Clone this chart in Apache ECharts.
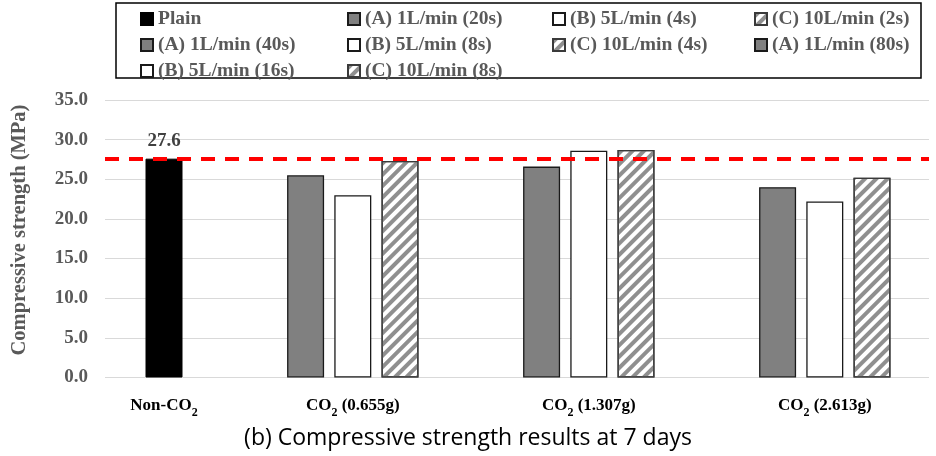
<!DOCTYPE html>
<html><head><meta charset="utf-8">
<script src="https://cdn.jsdelivr.net/npm/echarts@6/dist/echarts.min.js"></script>
<style>html,body{margin:0;padding:0;background:#fff}#c{width:936px;height:456px}</style>
</head><body><div id="c"></div>
<script>
// ---- data ----
const groupLabels = ['Non-CO2', 'CO2 (0.655g)', 'CO2 (1.307g)', 'CO2 (2.613g)'];
const seriesNames = ['Plain', '(A) 1L/min (20s)', '(B) 5L/min (4s)', '(C) 10L/min (2s)',
  '(A) 1L/min (40s)', '(B) 5L/min (8s)', '(C) 10L/min (4s)',
  '(A) 1L/min (80s)', '(B) 5L/min (16s)', '(C) 10L/min (8s)'];
const seriesValues = [27.6, 25.5, 23.0, 27.3, 26.6, 28.6, 28.7, 24.0, 22.2, 25.2];
const seriesGroup = [0, 1, 1, 1, 2, 2, 2, 3, 3, 3];
const seriesKind = ['plain', 'A', 'B', 'C', 'A', 'B', 'C', 'A', 'B', 'C'];
const referenceValue = 27.6;
const yTicks = [0, 5, 10, 15, 20, 25, 30, 35];

// slot layout: each group occupies consecutive slots, separated by 2 empty slots
const slotsPerGroup = [1, 3, 3, 3];
const groupGap = 2;
const slotOf = [];
const slotCats = [];
let s = 0;
const groupStart = [];
slotsPerGroup.forEach((n, g) => {
  groupStart.push(s);
  for (let i = 0; i < n; i++) slotCats.push(i === Math.floor(n / 2) ? groupLabels[g] : '');
  s += n + (g < slotsPerGroup.length - 1 ? groupGap : 0);
  if (g < slotsPerGroup.length - 1) for (let k = 0; k < groupGap; k++) slotCats.push('');
});
const seenInGroup = [0, 0, 0, 0];
seriesNames.forEach((n, i) => {
  const g = seriesGroup[i];
  slotOf.push(groupStart[g] + seenInGroup[g]);
  seenInGroup[g]++;
});

const serif = '"Liberation Serif","Times New Roman",serif';
const styles = {
  plain: { color: '#000000', borderColor: '#000000', borderWidth: 1 },
  A: { color: '#808080', borderColor: '#1a1a1a', borderWidth: 1.3 },
  B: { color: '#ffffff', borderColor: '#1a1a1a', borderWidth: 1.3 },
  C: { color: '#ffffff', borderColor: '#3a3a3a', borderWidth: 1.3,
       decal: { symbol: 'rect', symbolSize: 1, dashArrayX: [1, 0], dashArrayY: [4, 4],
                rotation: -Math.PI / 4, color: '#8f8f8f' } }
};

const series = seriesNames.map((name, i) => {
  const data = slotCats.map(() => null);
  data[slotOf[i]] = seriesValues[i];
  const o = {
    name, type: 'bar', xAxisIndex: 1, yAxisIndex: 1, data,
    barWidth: 37, barGap: '-100%', itemStyle: styles[seriesKind[i]], z: 3
  };
  if (i === 0) {
    o.label = { show: true, position: 'top', distance: 8, fontFamily: serif, fontWeight: 'bold',
      fontSize: 19, color: '#404040', formatter: p => p.value == null ? '' : p.value.toFixed(1) };
  }
  return o;
});
series.push({
  name: 'ref', type: 'line', xAxisIndex: 0, yAxisIndex: 0, data: [], silent: true,
  markLine: { symbol: 'none', silent: true, label: { show: false },
    lineStyle: { color: '#ff0000', width: 4, type: [14, 10] },
    data: [{ yAxis: referenceValue }] }, z: 5
});

function richLabel(v) {
  if (!v) return '';
  const m = v.match(/^(.*?CO)2(.*)$/);
  return '{a|' + m[1] + '}{s|2}{a|' + m[2] + '}';
}

const legendCols = [[0, 4, 8], [1, 5, 9], [2, 6], [3, 7]];
const legendLeft = [140, 347, 552, 754];
const legends = legendCols.map((col, k) => ({
  orient: 'vertical', left: legendLeft[k], top: 9, itemGap: 6, padding: 0,
  itemWidth: 12, itemHeight: 12, icon: 'rect', selectedMode: false,
  data: col.map(i => seriesNames[i]),
  textStyle: { fontFamily: serif, fontWeight: 'bold', fontSize: 19.5, color: '#595959', lineHeight: 19 }
}));

const chart = echarts.init(document.getElementById('c'), null, { renderer: 'canvas' });
chart.setOption({
  animation: false,
  backgroundColor: '#ffffff',
  grid: [
    { left: 105, right: 7, top: 100, bottom: 78.5 },
    { left: 140.4, right: 40.4, top: 100, bottom: 78.5 }
  ],
  xAxis: [
    { type: 'value', gridIndex: 0, min: 0, max: 1, show: false },
    { type: 'category', gridIndex: 1, data: slotCats,
      axisLine: { show: false }, axisTick: { show: false },
      axisLabel: { interval: 0, margin: 17, formatter: richLabel,
        rich: {
          a: { fontFamily: serif, fontWeight: 'bold', fontSize: 17, color: '#000', lineHeight: 20, verticalAlign: 'bottom' },
          s: { fontFamily: serif, fontWeight: 'bold', fontSize: 12, color: '#000', lineHeight: 20, verticalAlign: 'bottom', padding: [0, 0, -4, 0] }
        } } }
  ],
  yAxis: [
    { type: 'value', gridIndex: 0, min: 0, max: 35, interval: 5,
      axisLine: { show: false }, axisTick: { show: false },
      splitLine: { lineStyle: { color: '#d9d9d9', width: 1 } },
      axisLabel: { margin: 17, fontFamily: serif, fontWeight: 'bold', fontSize: 19, color: '#595959',
        formatter: v => v.toFixed(1) } },
    { type: 'value', gridIndex: 1, min: 0, max: 35, interval: 5, show: false, splitLine: { show: false } }
  ],
  legend: legends,
  graphic: [
    { type: 'rect', shape: { x: 116, y: 3, width: 805, height: 75 },
      style: { fill: 'none', stroke: '#000', lineWidth: 1.5 }, z: 1 },
    { type: 'text', x: 20, y: 230, rotation: Math.PI / 2,
      style: { text: 'Compressive strength (MPa)', fontFamily: serif, fontWeight: 'bold', fontSize: 20.5,
        fill: '#595959', align: 'center', verticalAlign: 'middle' } },
    { type: 'text', x: 468, y: 438,
      style: { text: '(b) Compressive strength results at 7 days', fontFamily: '"Open Sans",sans-serif',
        fontSize: 23, fill: '#000', align: 'center', verticalAlign: 'middle' } }
  ],
  series
});
</script></body></html>
